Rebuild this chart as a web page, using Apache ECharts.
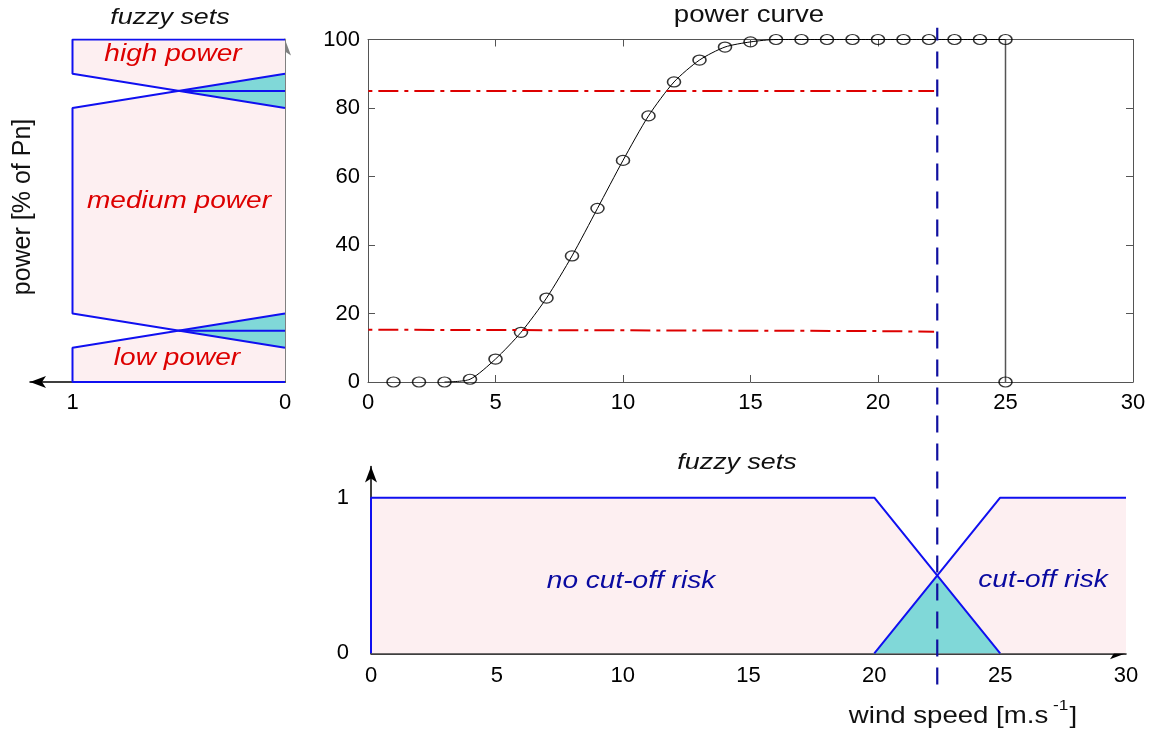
<!DOCTYPE html>
<html>
<head>
<meta charset="utf-8">
<script src="https://cdn.jsdelivr.net/npm/echarts@6/dist/echarts.min.js"></script>
<style>html,body{margin:0;padding:0;background:#fff}#c{width:1159px;height:735px}</style>
</head>
<body>
<div id="c"></div>
<script>
// ---------- data ----------
const windSpeed = [1,2,3,4,5,6,7,8,9,10,11,12,13,14,15,16,17,18,19,20,21,22,23,24,25];
const powerPct  = [0,0,0,0.8,6.7,14.5,24.5,36.8,50.7,64.7,77.7,87.6,94.0,97.8,99.3,100,100,100,100,100,100,100,100,100,100];
const cutOutPoint = [[25,100],[25,0]];

// power fuzzy sets: [membership, power %]
const powerLow    = [[0,0],[1,0],[1,10],[0,20]];
const powerMedium = [[0,10],[1,20],[1,80],[0,90]];
const powerHigh   = [[0,80],[1,90],[1,100],[0,100]];
const powerUnion  = [[0,0],[1,0],[1,10],[0.5,15],[1,20],[1,80],[0.5,85],[1,90],[1,100],[0,100]];
const powerOverlapHigh = [[0,80],[0.5,85],[0,90]];
const powerOverlapLow  = [[0,10],[0.5,15],[0,20]];
const powerCrossHigh = [[0.5,85],[0,85]];
const powerCrossLow  = [[0.5,15],[0,15]];

// red threshold lines: [wind speed, power %]
const upperThreshold = [[-12.3,85],[22.2,85]];
const lowerThreshold = [[-12.3,15.5],[19.5,14.9],[22.2,14.7]];

// wind fuzzy sets: [wind speed, membership]
const cutNoRisk  = [[0,0],[0,1],[20,1],[25,0]];
const cutRisk    = [[20,0],[25,1],[30,1]];
const cutUnion   = [[0,0],[0,1],[20,1],[22.5,0.5],[25,1],[30,1],[30,0]];
const cutOverlap = [[20,0],[22.5,0.5],[25,0]];
const measuredWind = [[22.5,-0.2],[22.5,4.02]];

const membershipTicks = [0,1];

// ---------- styling ----------
const FONT = "'Liberation Sans', Arial, sans-serif";
const PINK = '#fdeff1';
const CYAN = '#80d8d8';
const BLUE = '#1010f0';
const RED = '#dd0000';

function polygonSeries(points, fill, xi, yi, z) {
  return {
    type: 'custom', xAxisIndex: xi, yAxisIndex: yi, data: points, z: z, silent: true,
    renderItem: function (params, api) {
      if (params.dataIndex !== 0) return;
      return { type: 'polygon', shape: { points: points.map(p => api.coord(p)) }, style: { fill: fill } };
    }
  };
}
function lineSeries(points, color, width, xi, yi, z, type, clip) {
  return {
    type: 'line', xAxisIndex: xi, yAxisIndex: yi, data: points, showSymbol: false, symbol: 'none',
    lineStyle: { color: color, width: width, type: type || 'solid' }, z: z, silent: true,
    clip: clip === undefined ? true : clip, animation: false
  };
}
function label(text, x, y, font, fill, scaleX) {
  return { type: 'text', x: x, y: y, z: 100, scaleX: scaleX || 1,
    style: { text: text, font: font, fill: fill, align: 'center', verticalAlign: 'middle', textAlign: 'center', textVerticalAlign: 'middle' } };
}

const chart = echarts.init(document.getElementById('c'), null, { renderer: 'canvas' });
const tickLabel = { fontFamily: FONT, fontSize: 22, color: '#000' };

const option = {
  animation: false,
  backgroundColor: '#fff',
  grid: [
    { left: 30, top: 39.5, width: 255, height: 342.5 },
    { left: 368, top: 39.5, width: 765, height: 342.5 },
    { left: 371, top: 466.6, width: 755, height: 186.7 }
  ],
  xAxis: [
    { gridIndex: 0, type: 'value', min: 0, max: 1.2, inverse: true,
      axisLine: { onZero: false, lineStyle: { color: '#000', width: 1.5 }, symbol: ['arrow', 'none'], symbolSize: [9, 16] },
      axisTick: { show: false }, splitLine: { show: false },
      axisLabel: Object.assign({ customValues: membershipTicks, margin: 10 }, tickLabel) },
    { gridIndex: 1, type: 'value', min: 0, max: 30, interval: 5, position: 'bottom',
      axisLine: { onZero: false, lineStyle: { color: '#555', width: 1 } },
      axisTick: { inside: true, length: 7, lineStyle: { color: '#555' } }, splitLine: { show: false },
      axisLabel: Object.assign({ margin: 10 }, tickLabel) },
    { gridIndex: 1, type: 'value', min: 0, max: 30, interval: 5, position: 'top',
      axisLine: { onZero: false, lineStyle: { color: '#555', width: 1 } },
      axisTick: { inside: true, length: 7, lineStyle: { color: '#555' } }, splitLine: { show: false },
      axisLabel: { show: false } },
    { gridIndex: 2, type: 'value', min: 0, max: 30, interval: 5,
      axisLine: { onZero: false, lineStyle: { color: '#000', width: 1.5 }, symbol: ['none', 'arrow'], symbolSize: [9, 16] },
      axisTick: { show: false }, splitLine: { show: false },
      axisLabel: Object.assign({ margin: 12 }, tickLabel) }
  ],
  yAxis: [
    { gridIndex: 0, type: 'value', min: 0, max: 100, position: 'right',
      axisLine: { onZero: false, lineStyle: { color: '#808080', width: 2 }, symbol: ['none', 'arrow'], symbolSize: [9, 16] },
      axisTick: { show: false }, splitLine: { show: false }, axisLabel: { show: false } },
    { gridIndex: 1, type: 'value', min: 0, max: 100, interval: 20, position: 'left',
      axisLine: { onZero: false, lineStyle: { color: '#555', width: 1 } },
      axisTick: { inside: true, length: 7, lineStyle: { color: '#555' } }, splitLine: { show: false },
      axisLabel: Object.assign({ margin: 8 }, tickLabel) },
    { gridIndex: 1, type: 'value', min: 0, max: 100, interval: 20, position: 'right',
      axisLine: { onZero: false, lineStyle: { color: '#555', width: 1 } },
      axisTick: { inside: true, length: 7, lineStyle: { color: '#555' } }, splitLine: { show: false },
      axisLabel: { show: false } },
    { gridIndex: 2, type: 'value', min: 0, max: 1.2,
      axisLine: { onZero: false, lineStyle: { color: '#000', width: 1.5 }, symbol: ['none', 'arrow'], symbolSize: [9, 16] },
      axisTick: { show: false }, splitLine: { show: false },
      axisLabel: Object.assign({ customValues: membershipTicks, margin: 22 }, tickLabel) }
  ],
  series: [
    // left power fuzzy sets
    polygonSeries(powerUnion, PINK, 0, 0, 1),
    polygonSeries(powerOverlapHigh, CYAN, 0, 0, 2),
    polygonSeries(powerOverlapLow, CYAN, 0, 0, 2),
    lineSeries(powerLow, BLUE, 2, 0, 0, 3),
    lineSeries(powerMedium, BLUE, 2, 0, 0, 3),
    lineSeries(powerHigh, BLUE, 2, 0, 0, 3),
    lineSeries(powerCrossHigh, BLUE, 2, 0, 0, 3),
    lineSeries(powerCrossLow, BLUE, 2, 0, 0, 3),
    // power curve
    lineSeries(cutOutPoint, '#555', 1.5, 1, 1, 3),
    {
      type: 'line', xAxisIndex: 1, yAxisIndex: 1, smooth: 0.25,
      data: windSpeed.slice(2).map((w, i) => [w, powerPct[i + 2]]),
      showSymbol: false, symbol: 'none', lineStyle: { color: '#000', width: 1 }, z: 4, silent: true
    },
    {
      type: 'scatter', xAxisIndex: 1, yAxisIndex: 1,
      data: windSpeed.map((w, i) => [w, powerPct[i]]).concat([[25, 0]]),
      symbol: 'circle', symbolSize: [13, 10],
      itemStyle: { color: 'rgba(0,0,0,0)', borderColor: '#000', borderWidth: 1.4 }, z: 5, silent: true
    },
    lineSeries(upperThreshold, RED, 2, 1, 1, 6, [20, 6, 4, 6], false),
    lineSeries(lowerThreshold, RED, 2, 1, 1, 6, [20, 6, 4, 6], false),
    // bottom wind fuzzy sets
    polygonSeries(cutUnion, PINK, 3, 3, 1),
    polygonSeries(cutOverlap, CYAN, 3, 3, 2),
    lineSeries(cutNoRisk, BLUE, 2, 3, 3, 3),
    lineSeries(cutRisk, BLUE, 2, 3, 3, 3),
    lineSeries(measuredWind, '#1010a0', 2.2, 3, 3, 7, [17, 11], false)
  ],
  graphic: [
    label('fuzzy sets', 170, 18, 'italic 22px ' + FONT, '#111', 1.22),
    label('power curve', 749, 15, '24px ' + FONT, '#111', 1.15),
    Object.assign(label('power [% of Pn]', 23, 207, '25px ' + FONT, '#111', 1), { rotation: Math.PI / 2 }),
    label('high power', 173, 55, 'italic 23px ' + FONT, RED, 1.22),
    label('medium power', 179, 202, 'italic 23px ' + FONT, RED, 1.22),
    label('low power', 177, 359, 'italic 23px ' + FONT, RED, 1.22),
    label('fuzzy sets', 737, 463, 'italic 22px ' + FONT, '#111', 1.22),
    label('no cut-off risk', 631, 582, 'italic 23px ' + FONT, '#0a0aa0', 1.22),
    label('cut-off risk', 1043, 581, 'italic 23px ' + FONT, '#0a0aa0', 1.22),
    { type: 'text', x: 963, y: 713, z: 100, scaleX: 1.15, style: {
        text: '{n|wind speed [m.s}{s| -1}{n|]}', align: 'center', verticalAlign: 'middle', textAlign: 'center', textVerticalAlign: 'middle',
        rich: { n: { font: '24px ' + FONT, fill: '#111', verticalAlign: 'bottom', lineHeight: 30 },
                s: { font: '15px ' + FONT, fill: '#111', verticalAlign: 'top', lineHeight: 30, padding: [0, 1, 0, 0] } } } }
  ]
};
chart.setOption(option);
</script>
</body>
</html>
